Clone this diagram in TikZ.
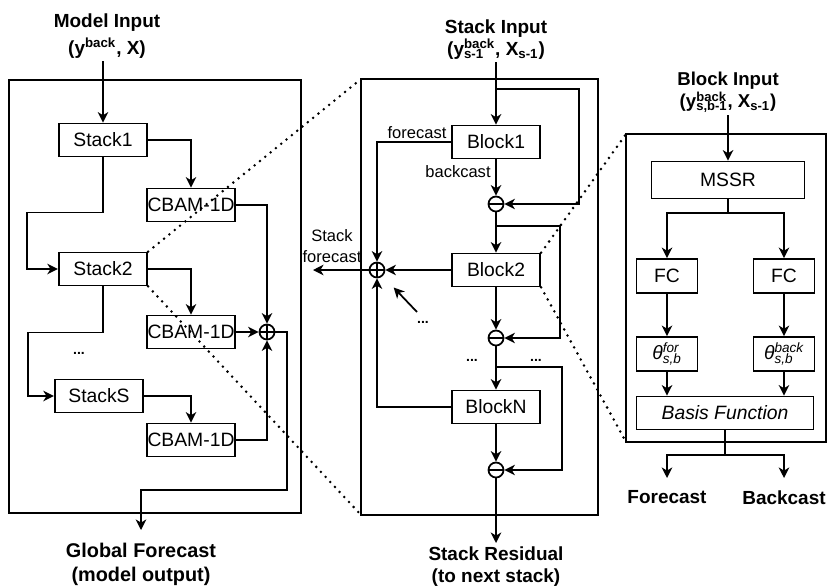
\documentclass[tikz,border=0pt]{standalone}
\usepackage{fontspec}
\setmainfont{Liberation Sans}
\usetikzlibrary{arrows.meta}

% stacked super- and subscript in text
\newcommand{\supsub}[2]{%
  \setbox0=\hbox{\textsuperscript{#1}}%
  \setbox2=\hbox{\textsubscript{#2}}%
  \ifdim\wd0>\wd2 \rlap{\box2}\box0 \else\rlap{\box0}\box2 \fi}

\tikzstyle{stackbox} = [rectangle, minimum width=1.77cm, minimum height=0.66cm, inner xsep=0pt, text centered, draw=black, line width=1pt, font=\fontsize{11}{13}\selectfont]
\tikzstyle{unitbox} = [rectangle, minimum width=1.22cm, minimum height=0.68cm, inner xsep=0pt, text centered, draw=black, line width=1pt, font=\fontsize{11}{13}\selectfont]
\tikzstyle{panel} = [rectangle, draw=black, line width=1pt, inner sep=0pt, outer sep=0pt]
\tikzstyle{plus} = [circle, draw=black, line width=1pt, minimum size=0.3cm, inner sep=0pt,
        path picture={\draw (path picture bounding box.north) -- (path picture bounding box.south)
                            (path picture bounding box.west) -- (path picture bounding box.east);}]
\tikzstyle{minus} = [circle, draw=black, line width=1pt, minimum size=0.3cm, inner sep=0pt,
        path picture={\draw (path picture bounding box.west) -- (path picture bounding box.east);}]
\tikzstyle{title} = [align=center, inner xsep=0pt, inner ysep=1pt, font=\fontsize{10.8}{15.5}\selectfont\bfseries]
\tikzstyle{lbl} = [align=center, inner sep=1pt, font=\fontsize{9.4}{11.5}\selectfont]
\tikzstyle{dots} = [inner sep=0pt, font=\fontsize{8}{9}\selectfont\bfseries]
\tikzstyle{arrow} = [line width=1pt,-{Stealth[length=6pt,width=6pt,inset=1.8pt]}]
\tikzstyle{line} = [line width=1pt]
\tikzstyle{zoomline} = [line width=1.6pt, dash pattern=on 0pt off 3.9pt, line cap=round]

\begin{document}
\begin{tikzpicture}[x=0.02cm, y=-0.02cm]
\useasboundingbox (0,0) rectangle (827,585);

\node (leftpanel) [panel, minimum width=5.84cm, minimum height=8.66cm] at (155,296.5) {};
\node (midpanel) [panel, minimum width=4.74cm, minimum height=8.72cm] at (479.5,297) {};
\node (rightpanel) [panel, minimum width=4cm, minimum height=6.16cm] at (726,288) {};

% whole model
\node (modelin) [title, anchor=south] at (107,61) {Model Input\\(y\textsuperscript{back}, X)};
\node (stack1) [stackbox] at (103,140) {Stack1};
\node (stack2) [stackbox] at (103,269) {Stack2};
\node (stacks) [stackbox] at (99,396) {StackS};
\node (cbam1) [stackbox] at (191,205) {CBAM-1D};
\node (cbam2) [stackbox] at (191,332) {CBAM-1D};
\node (cbam3) [stackbox] at (191,440) {CBAM-1D};
\node (sumall) [plus] at (267,332) {};
\node (moreleft) [dots] at (79,353) {...};
\node (globalout) [title, anchor=north, inner ysep=7.5pt, font=\fontsize{11.3}{13.6}\selectfont\bfseries] at (141,530) {Global Forecast\\(model output)};

% one stack
\node (stackin) [title, anchor=south, font=\fontsize{10.8}{11}\selectfont\bfseries] at (496,62) {Stack Input\\(y\supsub{back}{s-1}, X\textsubscript{s-1})};
\coordinate (split1) at (496,89);
\node (block1) [stackbox] at (496,142) {Block1};
\node (minus1) [minus] at (496,204) {};
\coordinate (split2) at (496,226);
\node (block2) [stackbox] at (496,270) {Block2};
\node (minus2) [minus] at (496,338) {};
\coordinate (split3) at (496,367);
\node (blockn) [stackbox] at (496,407) {BlockN};
\node (minus3) [minus] at (496,470) {};
\node (sumf) [plus] at (377,270) {};
\coordinate (sfout) at (313,270);
\node (sflabel) [lbl] at (332,246) {Stack\\forecast};
\node (flabel) [lbl] at (417,133) {forecast};
\node (blabel) [lbl] at (458,172) {backcast};
\node (moremid) [dots] at (423,322) {...};
\coordinate (moreblk) at (417,312);
\node (moremain) [dots] at (472,360) {...};
\node (moreres) [dots] at (536,360) {...};
\node (stackres) [title, anchor=north, inner ysep=2pt, font=\fontsize{10.8}{12.5}\selectfont\bfseries] at (496,543) {Stack Residual\\(to next stack)};

% one block
\node (blockin) [title, anchor=south, font=\fontsize{10.6}{11}\selectfont\bfseries] at (728,115) {Block Input\\(y\supsub{back}{s,b-1}, X\textsubscript{s-1})};
\node (mssr) [unitbox, minimum width=3.06cm, minimum height=0.74cm] at (728,180) {MSSR};
\coordinate (split4) at (728,213);
\node (fcf) [unitbox] at (667,276) {FC};
\node (fcb) [unitbox, right of=fcf, node distance=2.34cm] {FC};
\node (thf) [unitbox, below of=fcf, node distance=1.56cm] {\textit{θ\supsub{for}{s,b}}};
\node (thb) [unitbox, below of=fcb, node distance=1.56cm] {\textit{θ\supsub{back}{s,b}}};
\node (basis) [unitbox, minimum width=3.54cm, minimum height=0.66cm] at (725,413) {\textit{Basis Function}};
\coordinate (split5) at (725,455);
\node (fore) [title, anchor=north, inner ysep=7pt] at (667,478) {Forecast};
\node (back) [title, anchor=north, inner ysep=7pt] at (784,478) {Backcast};

\draw [arrow] (modelin.south -| stack1.north) -- (stack1);
\draw [arrow] (stack1) -| (cbam1);
\draw [arrow] (stack1.south) -- ++(0,55) -| (27,269) -- (stack2);
\draw [arrow] (stack2) -| (cbam2);
\draw [arrow] (stack2.south) -- ++(0,46) -| (28,396) -- (stacks);
\draw [arrow] (stacks) -| (cbam3);
\draw [arrow] (cbam1) -| (sumall);
\draw [arrow] (cbam2) -- (sumall);
\draw [arrow] (cbam3) -| (sumall);
\draw [arrow] (sumall) -- ++(20,0) |- (141,490) -- (globalout);

\draw [arrow] (stackin) -- (block1);
\draw [arrow] (split1) -- (579,89) |- (minus1);
\draw [arrow] (block1) -- (minus1);
\draw [arrow] (block1) -| (sumf);
\draw [arrow] (minus1) -- (block2);
\draw [arrow] (split2) -- (560,226) |- (minus2);
\draw [arrow] (block2) -- (minus2);
\draw [arrow] (block2) -- (sumf);
\draw [arrow] (sumf) -- (sfout);
\draw [arrow, shorten >=9pt] (moreblk) -- (sumf);
\draw [arrow] (minus2) -- (blockn);
\draw [arrow] (split3) -- (562,367) |- (minus3);
\draw [arrow] (blockn) -- (minus3);
\draw [arrow] (blockn) -| (sumf);
\draw [arrow] (minus3) -- (stackres);

\draw [arrow] (blockin) -- (mssr);
\draw [line] (mssr) -- (split4);
\draw [arrow] (split4) -| (fcf);
\draw [arrow] (split4) -| (fcb);
\draw [arrow] (fcf) -- (thf);
\draw [arrow] (fcb) -- (thb);
\draw [arrow] (thf) -- (thf |- basis.north);
\draw [arrow] (thb) -- (thb |- basis.north);
\draw [line] (basis) -- (split5);
\draw [arrow] (split5) -| (fore);
\draw [arrow] (split5) -| (back);

\draw [zoomline] (stack2.north east) -- (midpanel.north west);
\draw [zoomline] (stack2.south east) -- (midpanel.south west);
\draw [zoomline] (block2.north east) -- (rightpanel.north west);
\draw [zoomline] (block2.south east) -- (rightpanel.south west);

\end{tikzpicture}
\end{document}
